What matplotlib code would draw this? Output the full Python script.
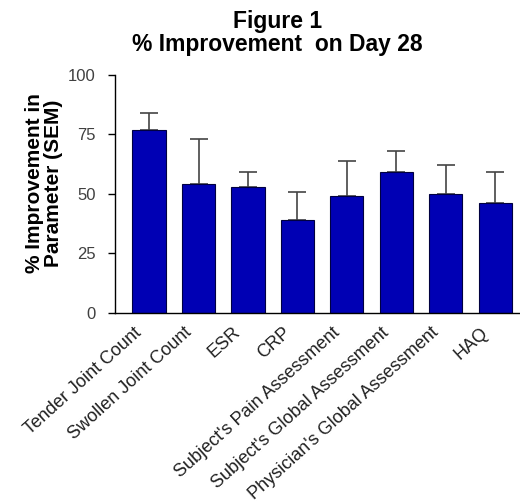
import numpy as np
import matplotlib
matplotlib.use("Agg")
import matplotlib.pyplot as plt
from matplotlib.transforms import ScaledTranslation

# % improvement at day 28, with SEM (upper bars only)
parameters = [
    "Tender Joint Count",
    "Swollen Joint Count",
    "ESR",
    "CRP",
    "Subject's Pain Assessment",
    "Subject's Global Assessment",
    "Physician's Global Assessment",
    "HAQ",
]
improvement = [77, 54, 53, 39, 49, 59, 50, 46]
sem = [7, 19, 6, 12, 15, 9, 12, 13]
yticks = [0, 25, 50, 75, 100]

plt.rcParams["font.family"] = ["Liberation Sans", "DejaVu Sans"]

fig = plt.figure(figsize=(5.2, 5.03), dpi=100)
ax = fig.add_axes([0.221, 0.378, 0.779, 0.473])

x = np.arange(len(parameters))
ax.bar(x, improvement, width=0.67, color="#0000b4", edgecolor="#000040",
       linewidth=0.8, zorder=2)
ax.errorbar(x, improvement, yerr=[np.zeros(len(sem)), sem], fmt="none",
            ecolor="#444444", elinewidth=1.2, capsize=6.4, capthick=1.2,
            zorder=1)

ax.set_xlim(-0.69, 7.5)
ax.set_ylim(0, 100)
ax.set_yticks(yticks)
ax.tick_params(axis="y", direction="out", length=5, width=1, pad=9,
               labelsize=12, labelcolor="#404040")
ax.tick_params(axis="x", length=0, pad=8)
ax.set_xticks(x)
ax.set_xticklabels(parameters, rotation=42, ha="right", va="top",
                   rotation_mode="anchor", fontsize=13, color="#202020")
# nudge the slanted labels a little to the left of each bar
shift = ScaledTranslation(-11 / 72, 0, fig.dpi_scale_trans)
for lbl in ax.get_xticklabels():
    lbl.set_transform(lbl.get_transform() + shift)

for side in ("top", "right"):
    ax.spines[side].set_visible(False)
ax.spines["left"].set_linewidth(1)
ax.spines["bottom"].set_linewidth(1)

ax.set_ylabel("% Improvement in\nParameter (SEM)", fontsize=15,
              fontweight="bold", linespacing=1.0)
ax.yaxis.set_label_coords(-0.128, 0.545)

fig.text(0.533, 0.944, "Figure 1", ha="center", va="baseline",
         fontsize=16.5, fontweight="bold")
fig.text(0.533, 0.898, "% Improvement  on Day 28", ha="center", va="baseline",
         fontsize=16.5, fontweight="bold")

fig.savefig("out.png", dpi=100, facecolor="white")
